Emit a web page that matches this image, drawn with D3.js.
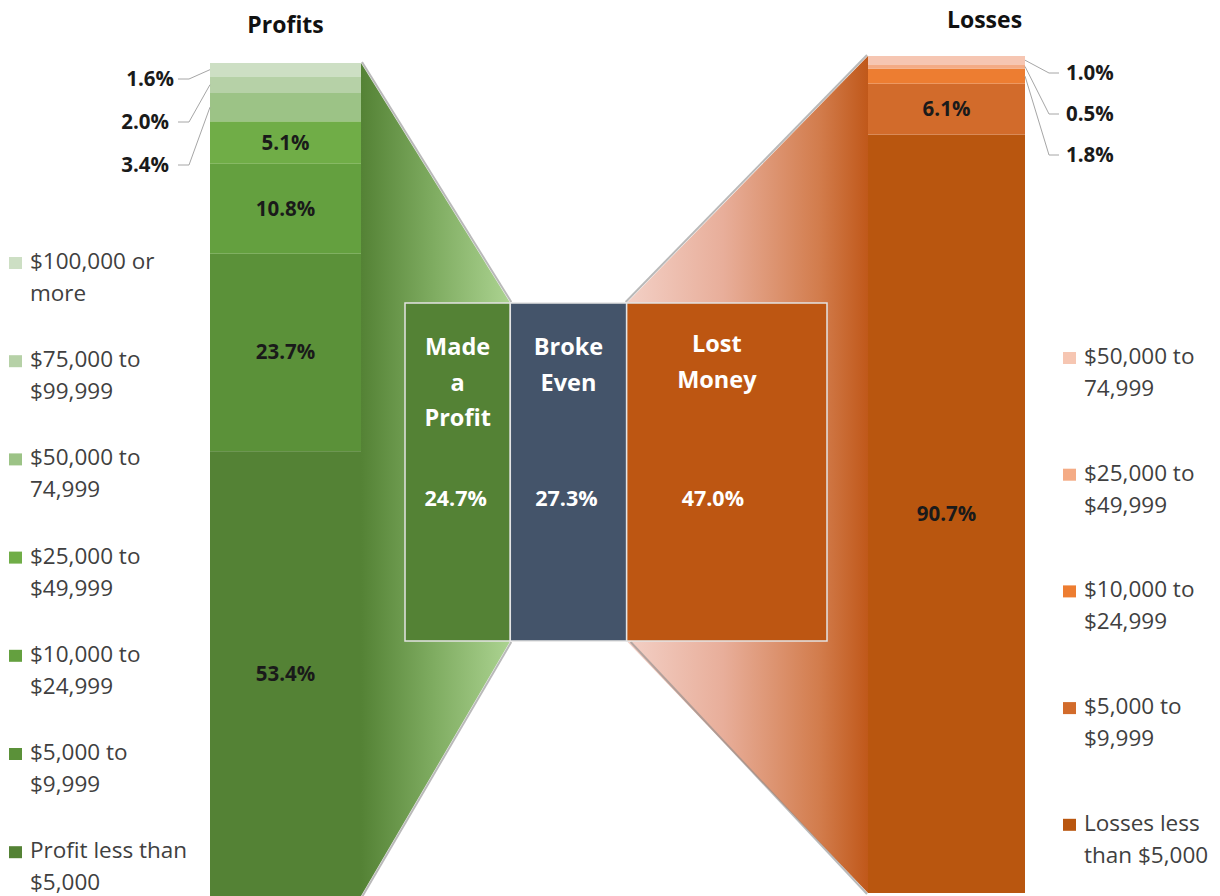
<!DOCTYPE html>
<html>
<head>
<meta charset="utf-8">
<script src="https://cdn.jsdelivr.net/npm/d3@7"></script>
<style>
  body { margin: 0; background: #fff; }
  text { font-family: "Open Sans", "Noto Sans", sans-serif; }
</style>
</head>
<body>
<div id="chart"></div>
<script>
// profit side, stacked from the bottom up
var profitCats = ["Profit less than $5,000", "$5,000 to $9,999", "$10,000 to $24,999",
                  "$25,000 to $49,999", "$50,000 to 74,999", "$75,000 to $99,999", "$100,000 or more"];
var profitVals = [53.4, 23.7, 10.8, 5.1, 3.4, 2.0, 1.6];
var profitColors = ["#548235", "#5b9139", "#64a03f", "#70ad47", "#9cc386", "#b6d1a7", "#cddfc4"];

// loss side, stacked from the bottom up
var lossCats = ["Losses less than $5,000", "$5,000 to $9,999", "$10,000 to $24,999",
                "$25,000 to $49,999", "$50,000 to 74,999"];
var lossVals = [90.7, 6.1, 1.8, 0.5, 1.0];
var lossColors = ["#b9560f", "#d26b2b", "#ed7d31", "#f4ab85", "#f6c6b2"];

// middle box
var outcomeCats = [["Made", "a", "Profit"], ["Broke", "Even"], ["Lost", "Money"]];
var outcomeVals = [24.7, 27.3, 47.0];
var outcomeColors = ["#548235", "#44546a", "#bd5612"];

var width = 1220, height = 896;
var svg = d3.select('#chart').append('svg')
            .attr('width', width).attr('height', height);
var defs = svg.append('defs');

function stack(vals) {
  var acc = 0;
  return vals.map(function(v) { var s = {y0: acc, y1: acc + v, v: v}; acc += v; return s; });
}
var pStack = stack(profitVals), lStack = stack(lossVals);

var yL = d3.scaleLinear().domain([0, d3.sum(profitVals)]).range([896, 63]);
var yR = d3.scaleLinear().domain([0, d3.sum(lossVals)]).range([893, 56]);
var xBox = d3.scaleLinear().domain([0, d3.sum(outcomeVals)]).range([405, 827]);
var boxTop = 303, boxBot = 641;
var lx0 = 210, lx1 = 361, rx0 = 868, rx1 = 1025;

var bStack = stack(outcomeVals);

// gradients for the funnels
var gL = defs.append('linearGradient').attr('id', 'gradL')
  .attr('gradientUnits', 'userSpaceOnUse')
  .attr('x1', lx1).attr('x2', xBox(bStack[0].y1)).attr('y1', 0).attr('y2', 0);
gL.append('stop').attr('offset', 0).attr('stop-color', '#548235');
gL.append('stop').attr('offset', 0.5).attr('stop-color', '#80ad62');
gL.append('stop').attr('offset', 1).attr('stop-color', '#acd391');

var gR = defs.append('linearGradient').attr('id', 'gradR')
  .attr('gradientUnits', 'userSpaceOnUse')
  .attr('x1', xBox(bStack[1].y1)).attr('x2', rx0).attr('y1', 0).attr('y2', 0);
gR.append('stop').attr('offset', 0).attr('stop-color', '#f3d0c6');
gR.append('stop').attr('offset', 0.4).attr('stop-color', '#e8ae9a');
gR.append('stop').attr('offset', 0.8).attr('stop-color', '#d27c4c');
gR.append('stop').attr('offset', 1).attr('stop-color', '#c0581a');

var line = d3.line();

// left funnel
var lPoly = [[lx1, yL(100)], [xBox(bStack[0].y1), boxTop], [xBox(bStack[0].y1), boxBot], [lx1, yL(0)]];
svg.append('path').attr('d', line(lPoly) + 'Z').attr('fill', 'url(#gradL)');
svg.append('path').attr('d', line([[lx1 + 1, yL(100) - 1], [xBox(bStack[0].y1) + 1, boxTop - 1]]))
   .attr('stroke', '#8a8a8a').attr('stroke-width', 2).attr('opacity', 0.6).attr('fill', 'none');
svg.append('path').attr('d', line([[xBox(bStack[0].y1) + 1, boxBot + 1], [lx1 + 1, yL(0) + 1]]))
   .attr('stroke', '#8a8a8a').attr('stroke-width', 2).attr('opacity', 0.6).attr('fill', 'none');

// right funnel
var rPoly = [[xBox(bStack[1].y1), boxTop], [rx0, yR(d3.sum(lossVals))], [rx0, yR(0)], [xBox(bStack[1].y1), boxBot]];
svg.append('path').attr('d', line(rPoly) + 'Z').attr('fill', 'url(#gradR)');
svg.append('path').attr('d', line([[xBox(bStack[1].y1) - 1, boxTop - 1], [rx0 - 1, yR(d3.sum(lossVals)) - 1]]))
   .attr('stroke', '#8a8a8a').attr('stroke-width', 2).attr('opacity', 0.6).attr('fill', 'none');
svg.append('path').attr('d', line([[xBox(bStack[1].y1) + 4, boxBot + 1], [rx0 - 1, yR(0) + 1]]))
   .attr('stroke', '#8a8a8a').attr('stroke-width', 2).attr('opacity', 0.6).attr('fill', 'none');

// stacked bars
svg.selectAll('.pseg').data(pStack).enter().append('rect')
   .attr('class', 'pseg')
   .attr('x', lx0).attr('width', lx1 - lx0)
   .attr('y', function(d) { return yL(d.y1); })
   .attr('height', function(d) { return yL(d.y0) - yL(d.y1); })
   .attr('fill', function(d, i) { return profitColors[i]; });

svg.selectAll('.lseg').data(lStack).enter().append('rect')
   .attr('class', 'lseg')
   .attr('x', rx0).attr('width', rx1 - rx0)
   .attr('y', function(d) { return yR(d.y1); })
   .attr('height', function(d) { return yR(d.y0) - yR(d.y1); })
   .attr('fill', function(d, i) { return lossColors[i]; });

// labels inside bars
svg.selectAll('.plab').data(pStack.filter(function(d) { return d.v >= 5; })).enter().append('text')
   .attr('x', (lx0 + lx1) / 2)
   .attr('y', function(d) { return (yL(d.y0) + yL(d.y1)) / 2 + 7; })
   .attr('text-anchor', 'middle').attr('font-size', 20.5).attr('font-weight', 700)
   .attr('fill', '#1a1a1a')
   .text(function(d) { return d.v.toFixed(1) + '%'; });

svg.selectAll('.llab').data(lStack.filter(function(d) { return d.v >= 5; })).enter().append('text')
   .attr('x', (rx0 + rx1) / 2)
   .attr('y', function(d) { return (yR(d.y0) + yR(d.y1)) / 2 + 7; })
   .attr('text-anchor', 'middle').attr('font-size', 20.5).attr('font-weight', 700)
   .attr('fill', '#1a1a1a')
   .text(function(d) { return d.v.toFixed(1) + '%'; });

// small labels outside with leader lines
var pSmall = pStack.filter(function(d) { return d.v < 5; }).reverse();
pSmall.forEach(function(d, i) {
  var ly = 79 + i * 43;
  var sy = (yL(d.y0) + yL(d.y1)) / 2;
  svg.append('path').attr('d', line([[lx0, sy], [189, ly], [178, ly]]))
     .attr('stroke', '#a6a6a6').attr('fill', 'none');
  svg.append('text').attr('x', 171 + (i ? -2 : 3)).attr('y', ly + 7)
     .attr('text-anchor', 'end').attr('font-size', 20.5).attr('font-weight', 700)
     .attr('fill', '#1a1a1a').text(d.v.toFixed(1) + '%');
});

var lSmall = lStack.filter(function(d) { return d.v < 5; }).reverse();
lSmall.forEach(function(d, i) {
  var ly = 73 + i * 41;
  var sy = (yR(d.y0) + yR(d.y1)) / 2;
  svg.append('path').attr('d', line([[rx1, sy], [1049, ly], [1059, ly]]))
     .attr('stroke', '#a6a6a6').attr('fill', 'none');
  svg.append('text').attr('x', 1066).attr('y', ly + 7)
     .attr('font-size', 20.5).attr('font-weight', 700)
     .attr('fill', '#1a1a1a').text(d.v.toFixed(1) + '%');
});

// middle box
var box = svg.selectAll('.box').data(bStack).enter().append('g');
box.append('rect')
   .attr('x', function(d) { return xBox(d.y0); })
   .attr('width', function(d) { return xBox(d.y1) - xBox(d.y0); })
   .attr('y', boxTop).attr('height', boxBot - boxTop)
   .attr('fill', function(d, i) { return outcomeColors[i]; })
   .attr('stroke', '#e4e4e4').attr('stroke-width', 1.5);
box.each(function(d, i) {
  var g = d3.select(this);
  var cx = (xBox(d.y0) + xBox(d.y1)) / 2 - (i == 2 ? 10 : 0);
  var y0 = i == 2 ? 352 : 355;
  outcomeCats[i].forEach(function(w, j) {
    g.append('text').attr('x', cx).attr('y', y0 + j * 35.5)
     .attr('text-anchor', 'middle').attr('font-size', 23.5).attr('font-weight', 700)
     .attr('fill', '#fff').text(w);
  });
  g.append('text').attr('x', cx - (i == 2 ? 4 : 2)).attr('y', 506)
   .attr('text-anchor', 'middle').attr('font-size', 21.5).attr('font-weight', 700)
   .attr('fill', '#fff').text(d.v.toFixed(1) + '%');
});

// titles
svg.append('text').attr('x', (lx0 + lx1) / 2).attr('y', 33)
   .attr('text-anchor', 'middle').attr('font-size', 23).attr('font-weight', 700)
   .attr('fill', '#111').text('Profits');
svg.append('text').attr('x', (rx0 + rx1) / 2 + 38).attr('y', 28)
   .attr('text-anchor', 'middle').attr('font-size', 23).attr('font-weight', 700)
   .attr('fill', '#111').text('Losses');

// legends, wrapped to a max width
function legend(cats, colors, x, y0, step, maxW) {
  cats.slice().reverse().forEach(function(c, i) {
    var col = colors[cats.length - 1 - i];
    var y = y0 + i * step;
    var g = svg.append('g');
    g.append('rect').attr('x', x).attr('y', y - 12).attr('width', 13).attr('height', 12).attr('fill', col);
    var t = g.append('text').attr('font-size', 22.5).attr('fill', '#404040');
    var words = c.split(' '), cur = [], ln = 0;
    var tsp = t.append('tspan').attr('x', x + 21).attr('y', y);
    words.forEach(function(w) {
      cur.push(w);
      tsp.text(cur.join(' '));
      if (tsp.node().getComputedTextLength() > maxW && cur.length > 1) {
        cur.pop();
        tsp.text(cur.join(' '));
        cur = [w];
        ln++;
        tsp = t.append('tspan').attr('x', x + 21).attr('y', y + ln * 32).text(w);
      }
    });
  });
}
legend(profitCats, profitColors, 9, 269, 98.2, 170);
legend(lossCats, lossColors, 1063, 364, 116.7, 130);
</script>
</body>
</html>
